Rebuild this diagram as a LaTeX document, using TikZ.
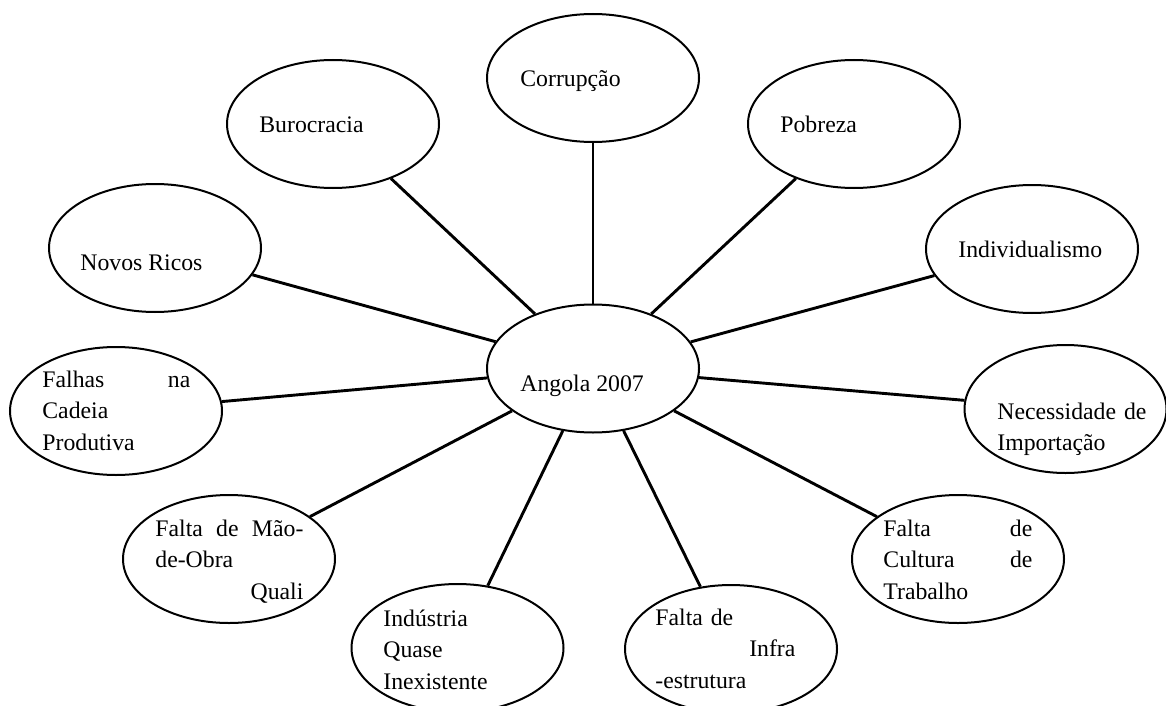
\documentclass[tikz,border=0pt]{standalone}
\usepackage{fontspec}
\setmainfont{Liberation Serif}
\usetikzlibrary{shapes.geometric}
\begin{document}
\begin{tikzpicture}[x=0.5pt,y=-0.5pt,
  bubble/.style={ellipse, draw=black, line width=1pt, minimum width=106pt, minimum height=64pt, inner sep=0pt},
  spoke/.style={line width=1.45pt},
  txt/.style={anchor=base west, inner sep=0pt, font=\fontsize{11.875pt}{15.85pt}\selectfont, align=left},
]
\clip (0,0) rectangle (1166,706);
\fill[white] (0,0) rectangle (1166,706);

% central theme
\node[bubble] (ang) at (593,368.5) {};
% surrounding issues
\node[bubble] (cor) at (593,78) {};
\node[bubble] (bur) at (333,124) {};
\node[bubble] (pob) at (854,124) {};
\node[bubble] (ind) at (1032,249) {};
\node[bubble] (nov) at (155,248) {};
\node[bubble] (fal) at (116,411) {};
\node[bubble, minimum width=101pt] (nec) at (1065.5,409) {};
\node[bubble] (mao) at (229,559) {};
\node[bubble] (cul) at (958,559) {};
\node[bubble] (idu) at (457.5,648) {};
\node[bubble] (inf) at (731,649) {};

% spokes
\foreach \n in {cor,bur,pob,ind,nov,fal,nec,mao,cul,idu,inf}
  \draw[spoke] (ang) -- (\n);

% labels
\node[txt] (angT) at (520,391) {Angola 2007};
\node[txt] (corT) at (520,87) {Corrupção};
\node[txt] (burT) at (259,133) {Burocracia};
\node[txt] (pobT) at (780,133) {Pobreza};
\node[txt] (indT) at (958,257) {Individualismo};
\node[txt] (novT) at (80,270) {Novos Ricos};
\node[txt, text width=74pt] (falT) at (42,387) {Falhas\hfill na\\Cadeia\\Produtiva};
\node[txt, text width=80pt] (necT) at (997,419) {Necessidade de\\Importação};
\node[txt, text width=74pt] (maoT) at (155,536) {Falta\hfill de\hfill Mão-\\de-Obra\\\hspace*{\fill}Quali};
\node[txt, text width=74.5pt] (culT) at (883,536) {Falta\hfill de\\Cultura\hfill de\\Trabalho};
\node[txt, text width=70pt] (iduT) at (383,626) {Indústria\\Quase\\Inexistente};
\node[txt, text width=70pt] (infT) at (655,625) {Falta de\\\hspace*{\fill}Infra\\-estrutura};
\end{tikzpicture}
\end{document}
